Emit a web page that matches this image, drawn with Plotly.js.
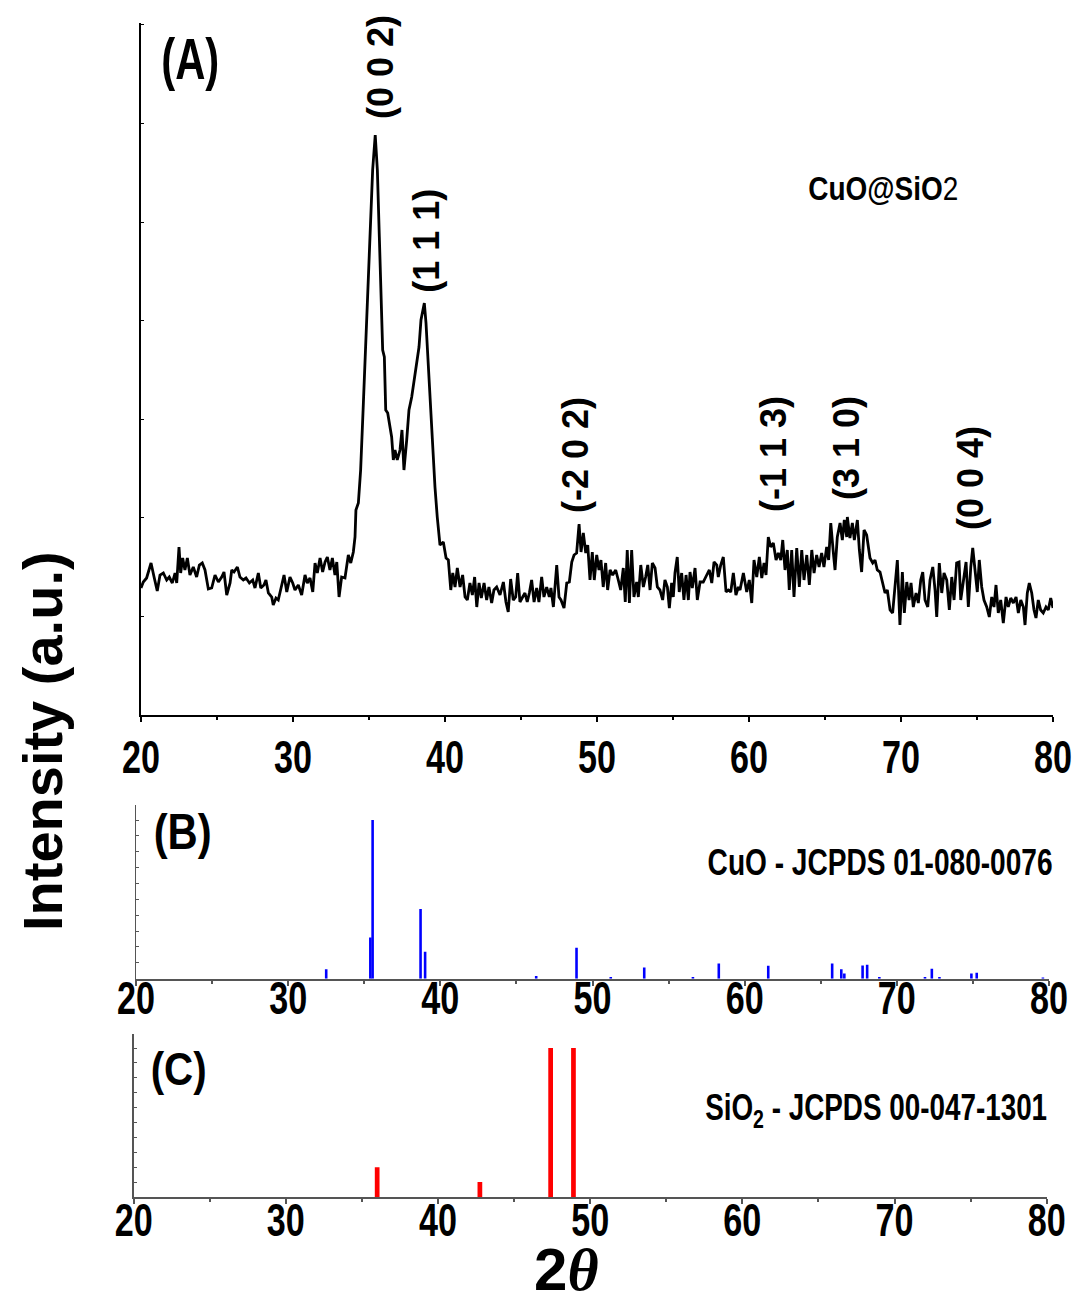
<!DOCTYPE html>
<html>
<head>
<meta charset="utf-8">
<script src="https://cdn.plot.ly/plotly-3.0.1.min.js"></script>
<style>html,body{margin:0;padding:0;background:#fff;}#chart{width:1079px;height:1301px;}</style>
</head>
<body>
<div id="chart"></div>
<script>
// ---- Panel A: CuO@SiO2 measured pattern (2θ in degrees, intensity in a.u.) ----
const twoTheta = [20.00,20.15,20.37,20.66,20.86,21.07,21.25,21.47,21.69,21.86,22.06,22.24,22.35,22.50,22.61,22.74,22.89,23.05,23.22,23.44,23.66,23.84,24.03,24.21,24.43,24.65,24.87,25.09,25.31,25.46,25.64,25.86,25.97,26.12,26.34,26.51,26.73,26.91,27.13,27.35,27.50,27.72,27.88,28.09,28.22,28.38,28.60,28.70,28.88,29.03,29.26,29.41,29.59,29.80,29.98,30.13,30.35,30.57,30.79,30.94,31.12,31.30,31.45,31.60,31.78,31.95,32.11,32.26,32.43,32.59,32.76,32.88,33.03,33.20,33.42,33.64,33.80,33.97,
34.08,34.14,34.30,34.45,34.63,34.85,35.07,35.24,35.41,35.55,35.68,35.81,35.90,36.01,36.10,36.23,36.38,36.49,36.60,36.71,36.86,37.04,37.17,37.30,37.48,37.63,37.81,37.96,38.14,38.29,38.42,38.53,38.64,38.75,38.86,39.01,39.19,39.34,39.49,39.67,39.89,40.07,40.22,40.38,40.51,40.66,40.81,40.99,41.16,41.32,41.47,41.64,41.80,41.95,42.09,42.24,42.39,42.57,42.74,42.89,43.07,43.22,43.40,43.62,43.84,44.01,44.16,44.32,44.49,44.65,44.78,44.93,45.11,45.26,45.41,45.55,45.70,45.86,46.03,46.18,46.36,46.51,46.69,46.86,46.97,47.13,47.35,47.50,47.63,47.83,48.01,48.18,48.34,48.49,48.66,48.82,48.95,49.10,49.26,49.39,49.54,49.69,49.82,49.98,50.13,50.26,50.41,50.57,50.70,50.86,51.03,51.23,51.40,51.56,51.73,51.86,51.99,52.13,52.28,52.43,52.61,52.72,52.88,53.05,53.20,53.34,53.49,53.64,53.82,53.97,54.14,54.32,54.47,54.63,54.76,54.91,55.02,55.13,55.28,55.41,55.57,55.72,55.86,56.01,56.12,56.27,56.45,56.60,56.78,56.99,57.22,57.39,57.55,57.70,57.88,57.98,58.14,58.31,58.49,58.64,58.80,58.97,59.14,59.30,
59.41,59.63,59.85,60.02,60.18,60.33,60.51,60.68,60.84,60.99,61.12,61.27,61.43,61.60,61.78,61.93,62.09,62.22,62.37,62.52,62.65,62.81,62.96,63.14,63.31,63.47,63.62,63.80,63.97,64.13,64.28,64.45,64.61,64.78,64.93,65.11,65.24,65.38,65.55,65.66,65.81,65.99,66.14,66.27,66.43,66.47,66.64,66.80,66.93,67.13,67.26,67.41,67.57,67.74,67.96,68.14,68.29,68.44,68.62,68.80,68.95,69.10,69.28,69.45,69.61,69.76,69.93,70.09,70.22,70.38,70.53,70.66,70.81,70.99,71.14,71.30,71.43,71.58,71.76,71.91,72.09,72.24,72.35,72.52,72.68,72.83,73.01,73.18,73.34,73.49,73.66,73.82,73.93,74.10,74.28,74.43,74.59,74.72,74.87,75.02,75.15,75.31,75.46,75.64,75.81,75.97,76.12,76.25,76.40,76.56,76.73,76.91,77.06,77.22,77.39,77.57,77.72,77.88,78.05,78.16,78.31,78.44,78.60,78.75,78.88,79.03,79.19,79.36,79.54,79.69,79.85,80.00];
const intensity = [127,133,137,152,138,124,140,142,135,138,132,142,132,168,142,157,145,157,140,148,138,150,152,145,126,127,140,133,138,143,120,132,145,143,148,138,135,137,132,135,127,142,127,130,135,122,118,110,117,115,130,140,123,138,132,125,130,120,140,132,137,123,152,142,157,143,153,158,145,157,140,153,118,138,137,160,152,163,
178,205,212,245,312,395,495,545,580,545,478,395,365,358,305,302,285,278,255,265,255,265,285,245,275,305,318,335,355,368,395,402,412,392,362,312,262,228,198,170,173,157,155,125,142,128,147,128,140,118,115,132,120,138,108,132,117,132,115,128,112,125,128,120,133,113,103,136,115,118,142,113,118,122,113,122,135,113,127,113,138,118,128,118,127,108,150,118,115,107,132,133,153,160,162,191,163,182,162,170,135,163,135,160,145,155,128,152,125,145,140,145,135,125,147,113,165,112,165,118,133,118,150,128,138,150,125,152,147,128,125,115,135,128,107,132,118,142,158,123,142,115,140,115,143,127,147,115,133,133,140,145,132,153,150,138,150,158,123,125,123,142,120,128,
125,142,123,135,112,155,138,158,137,152,140,178,168,172,155,162,155,175,145,165,125,165,118,167,128,165,135,160,130,165,142,160,148,162,148,168,155,192,162,145,178,192,175,195,178,198,177,192,175,195,165,143,185,180,157,152,155,145,143,132,122,125,105,102,128,155,90,143,102,133,115,132,108,122,112,135,143,115,108,135,148,125,98,152,122,142,135,105,138,115,152,153,115,135,153,108,148,167,148,123,155,128,115,108,98,118,108,130,102,115,92,118,108,117,112,118,102,115,108,90,122,132,122,105,97,115,105,102,108,105,117,107];

// ---- Panel B: CuO reference lines (JCPDS 01-080-0076) ----
const cuoPos = [32.5,35.4,35.55,38.7,39.0,46.3,48.95,51.2,53.4,56.6,58.3,61.55,65.75,66.35,66.55,67.75,68.05,68.85,71.85,72.3,72.8,74.9,75.25,79.6];
const cuoInt = [5.9,26,100,44,17,1.7,19.5,1,7,1,9.6,8.2,9.6,5.9,3.3,8.4,8.8,1,1,6.3,1,3.3,3.8,0.7];

// ---- Panel C: SiO2 reference lines (JCPDS 00-047-1301) ----
const sio2Pos = [36.0,42.75,47.4,48.9];
const sio2Int = [20,10,100,100];

// ---- Miller index labels (panel A) ----
const hklText = ['(0 0 2)','(1 1 1)','(-2 0 2)','(-1 1 3)','(3 1 0)','(0 0 4)'];
const hklX = [35.72,38.73,48.55,61.58,66.38,74.54];
const hklY = [648,474,260,261,267,237];

const xTickVals = [20,30,40,50,60,70,80];

const sans = '"Liberation Sans", Arial, sans-serif';

function xax(domain, anchor, color, lw, standoff) {
  return {
    domain: domain, anchor: anchor, range: [20, 80], autorange: false,
    tickvals: xTickVals, ticktext: xTickVals.map(String),
    ticks: 'outside', ticklen: 5, tickwidth: lw, tickcolor: color,
    minor: {dtick: 5, tick0: 0, ticks: 'outside', ticklen: 3, tickwidth: lw, tickcolor: color},
    showline: true, linecolor: color, linewidth: lw, mirror: false,
    showgrid: false, zeroline: false, ticklabelstandoff: standoff,
    tickfont: {family: sans, size: 46, color: '#000', weight: 'bold'}
  };
}
function yax(domain, anchor, range, dtick, color, lw) {
  return {
    domain: domain, anchor: anchor, range: range, autorange: false,
    tick0: 0, dtick: dtick, ticks: 'inside', ticklen: 3, tickwidth: 1, tickcolor: color,
    showticklabels: false, showline: true, linecolor: color, linewidth: lw,
    showgrid: false, zeroline: false
  };
}

const traces = [
  {x: twoTheta, y: intensity, type: 'scatter', mode: 'lines', xaxis: 'x', yaxis: 'y',
   line: {color: '#000', width: 2.8}, hoverinfo: 'skip'},
  {x: cuoPos, y: cuoInt, type: 'bar', xaxis: 'x2', yaxis: 'y2', width: 0.17,
   marker: {color: '#0000ff', line: {width: 0}}},
  {x: sio2Pos, y: sio2Int, type: 'bar', xaxis: 'x3', yaxis: 'y3', width: 0.31,
   marker: {color: '#ff0000', line: {width: 0}}}
];

const annotations = [];
const squeezeWidth = []; // target rendered width (px) per annotation, null = natural
hklText.forEach((t, i) => {
  annotations.push({xref: 'x', yref: 'y', x: hklX[i], y: hklY[i], text: t, showarrow: false,
    textangle: -90, xanchor: 'center', yanchor: 'middle',
    font: {family: sans, size: 36, color: '#000', weight: 'bold'}});
  squeezeWidth.push(null);
});
function paperAnn(px, py, text, size, w, extra) {
  annotations.push(Object.assign({xref: 'paper', yref: 'paper', x: px / 1079, y: 1 - py / 1301,
    text: text, showarrow: false, xanchor: 'center', yanchor: 'middle',
    font: {family: sans, size: size, color: '#000', weight: 'bold'}}, extra || {}));
  squeezeWidth.push(w);
}
paperAnn(190, 58, '(A)', 58, 58);
paperAnn(183, 832, '(B)', 50, 58);
paperAnn(178, 1068, '(C)', 47, 56);
paperAnn(883, 188, 'CuO@SiO<span style="font-weight:normal">2</span>', 34, 150);
paperAnn(880, 862, 'CuO - JCPDS 01-080-0076', 36, 345);
paperAnn(876, 1110, 'SiO<sub>2</sub> - JCPDS 00-047-1301', 36, 342);
paperAnn(42, 741, 'Intensity (a.u.)', 56, null, {textangle: -90});
paperAnn(566, 1269, '2<span style="font-family:\'Liberation Serif\', serif"><i>θ</i></span>', 60, null);

const layout = {
  width: 1079, height: 1301,
  margin: {l: 0, r: 0, t: 0, b: 0},
  paper_bgcolor: '#fff', plot_bgcolor: 'rgba(0,0,0,0)',
  showlegend: false, barmode: 'overlay',
  xaxis: xax([141/1079, 1053/1079], 'y', '#000', 2, -4),
  yaxis: yax([586/1301, 1278/1301], 'x', [0, 692], 98.6, '#000', 2),
  xaxis2: xax([136/1079, 1049/1079], 'y2', '#555', 2, -27),
  yaxis2: yax([322.3/1301, 496/1301], 'x2', [0, 109.5], 10, '#555', 1.5),
  xaxis3: xax([133.7/1079, 1046.7/1079], 'y3', '#555', 2, -23),
  yaxis3: yax([104/1301, 267/1301], 'x3', [0, 109.4], 10, '#555', 1.5),
  annotations: annotations
};

function squeeze(el, target) {
  const L = el.getComputedTextLength();
  if (L > 0 && target) {
    el.setAttribute('textLength', target);
    el.setAttribute('lengthAdjust', 'spacingAndGlyphs');
  }
}

Plotly.newPlot('chart', traces, layout, {displayModeBar: false, staticPlot: true}).then(gd => {
  gd.querySelectorAll('.xtick text, .x2tick text, .x3tick text').forEach(el => {
    const n = (el.textContent || '').length;
    squeeze(el, n * 19);
  });
  gd.querySelectorAll('.annotation').forEach(g => {
    const i = +g.getAttribute('data-index');
    const t = g.querySelector('text');
    if (t && squeezeWidth[i]) squeeze(t, squeezeWidth[i]);
  });
});
</script>
</body>
</html>
